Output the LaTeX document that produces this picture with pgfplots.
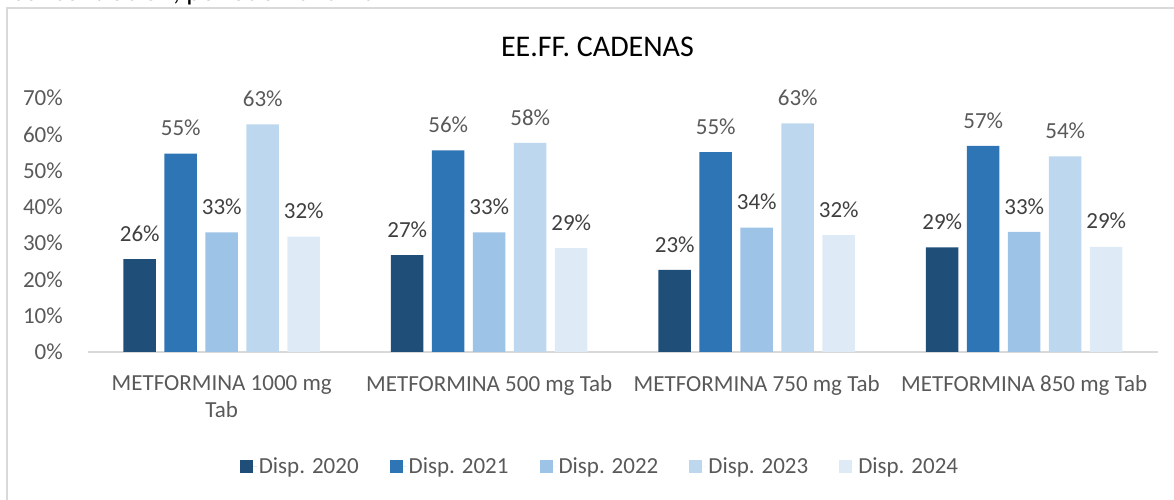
\documentclass[border=0pt]{standalone}
\usepackage{fontspec}
\setmainfont{Carlito}
\usepackage{pgfplots}
\pgfplotsset{compat=1.18}
\definecolor{c20}{HTML}{1F4E79}
\definecolor{c21}{HTML}{2E75B6}
\definecolor{c22}{HTML}{9DC3E6}
\definecolor{c23}{HTML}{BDD7EE}
\definecolor{c24}{HTML}{DEEBF7}
\definecolor{txt}{HTML}{595959}
\definecolor{txtd}{HTML}{404040}
\definecolor{gridc}{HTML}{D9D9D9}
\newcommand{\fs}{\fontsize{23bp}{27bp}\selectfont}
\begin{document}
\begin{tikzpicture}
\useasboundingbox (0,0) rectangle (1174bp,500bp);
\clip (0,0) rectangle (1174bp,500bp);
\node[anchor=base west, inner sep=0, font=\fontsize{28bp}{32bp}\selectfont] at (12bp,499.3bp) {concentración, periodo 2020-2024};
\draw[gridc, line width=2bp] (7bp,-5bp) -- (7bp,492bp) -- (1180bp,492bp);
\node[anchor=base, inner sep=0, font=\fontsize{30bp}{34bp}\selectfont] at (597.5bp,443bp) {EE.FF. CADENAS};
\begin{axis}[
  scale only axis, width=1070bp, height=254bp,
  at={(88bp,148bp)}, anchor=south west,
  xmin=-0.5, xmax=3.5, ymin=0, ymax=70,
  axis x line*=bottom, axis y line*=left,
  x axis line style={gridc, line width=1.5bp},
  y axis line style={draw=none},
  major tick length=0pt,
  /pgf/number format/assume math mode=true,
  ytick={0,10,20,30,40,50,60,70},
  yticklabel={\pgfmathprintnumber{\tick}\%},
  yticklabel style={font=\fs, text=txt, anchor=east, inner sep=0pt, xshift=-25bp},
  xtick={0,1,2,3},
  xticklabels={{METFORMINA 1000 mg\\Tab},{METFORMINA 500 mg Tab},{METFORMINA 750 mg Tab},{METFORMINA 850 mg Tab}},
  xticklabel style={font=\fs, text=txt, align=center, anchor=north, inner sep=0pt, yshift=-23bp},
  ybar, bar width=32.5bp,
  clip=false,
  nodes near coords={\pgfmathprintnumber[fixed,precision=0]{\pgfplotspointmeta}\%},
  nodes near coords style={anchor=south, inner sep=0pt, yshift=17.5bp, font=\fs, text=txtd},
  legend columns=5,
  legend image code/.code={\path[#1,draw=none] (0bp,-6.5bp) rectangle (13bp,6.5bp); \path (0bp,0bp) -- (17bp,0bp);},
  legend style={at={(0.4785,-0.449)}, anchor=center, draw=none, font=\fs, text=txt,
    /tikz/every even column/.append style={column sep=29bp}},
]
\addplot[fill=c20, draw=none, bar shift=-82bp] coordinates {(0,25.6) (1,26.7) (2,22.6) (3,28.8)};
\addplot[fill=c21, draw=none, bar shift=-41bp, nodes near coords style={text=txt}] coordinates {(0,54.7) (1,55.6) (2,55.1) (3,56.8)};
\addplot[fill=c22, draw=none, bar shift=0bp] coordinates {(0,33.0) (1,33.0) (2,34.3) (3,33.1)};
\addplot[fill=c23, draw=none, bar shift=41bp, nodes near coords style={text=txt}] coordinates {(0,62.7) (1,57.6) (2,63.0) (3,53.9)};
\addplot[fill=c24, draw=none, bar shift=82bp] coordinates {(0,31.8) (1,28.6) (2,32.2) (3,29.0)};
\legend{Disp. 2020, Disp. 2021, Disp. 2022, Disp. 2023, Disp. 2024}
\end{axis}
\end{tikzpicture}
\end{document}
